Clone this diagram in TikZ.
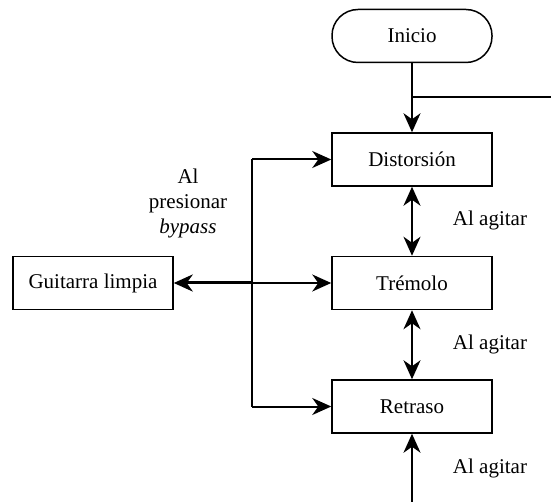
\documentclass[tikz,border=0pt]{standalone}
\usepackage{fontspec}
\setmainfont{Liberation Serif}
\usetikzlibrary{arrows.meta,positioning}
\begin{document}
\begin{tikzpicture}[x=1pt,y=-1pt,
  tip/.tip={Stealth[length=19pt,width=17pt,inset=6pt]},
  box/.style={draw,line width=1.5pt,minimum width=160pt,minimum height=53pt,inner sep=0pt,font=\fontsize{21}{25}\selectfont},
  term/.style={box,rounded corners=26pt},
  conn/.style={line width=2pt,-tip},
  dconn/.style={line width=2pt,tip-tip},
  lab/.style={font=\fontsize{21}{25}\selectfont,align=center}]
\useasboundingbox (0,0) rectangle (551,502);
\node[term] (ini) at (412,36) {Inicio};
\node[box] (dis) at (412,159.5) {Distorsión};
\node[box] (tre) at (412,283) {Trémolo};
\node[box] (ret) at (412,406.5) {Retraso};
\node[box] (gui) at (93,283) {Guitarra limpia};
\coordinate (j1) at (412,97);
\coordinate (e1) at (551,97);
\coordinate (bot) at (412,502);
\coordinate (v1) at (252,159.5);
\coordinate (v2) at (252,283);
\coordinate (v3) at (252,406.5);
\draw[line width=2pt] (j1) -- (e1);
\draw[conn] (ini) -- (dis);
\draw[dconn] (dis) -- (tre);
\draw[dconn] (tre) -- (ret);
\draw[conn] (bot) -- (ret);
\draw[line width=2pt] (v1) -- (v3);
\draw[conn] (v1) -- (dis);
\draw[conn] (v2) -- (tre);
\draw[conn] (v3) -- (ret);
\draw[line width=3pt,-tip] (v2) -- (gui);
\node[lab] (l1) at (490,220) {Al agitar};
\node[lab] (l2) at (490,344) {Al agitar};
\node[lab] (l3) at (490,468) {Al agitar};
\node[lab,font=\fontsize{21}{25}\selectfont] (l4) at (188,203) {Al\\presionar\\\textit{bypass}};
\end{tikzpicture}
\end{document}
